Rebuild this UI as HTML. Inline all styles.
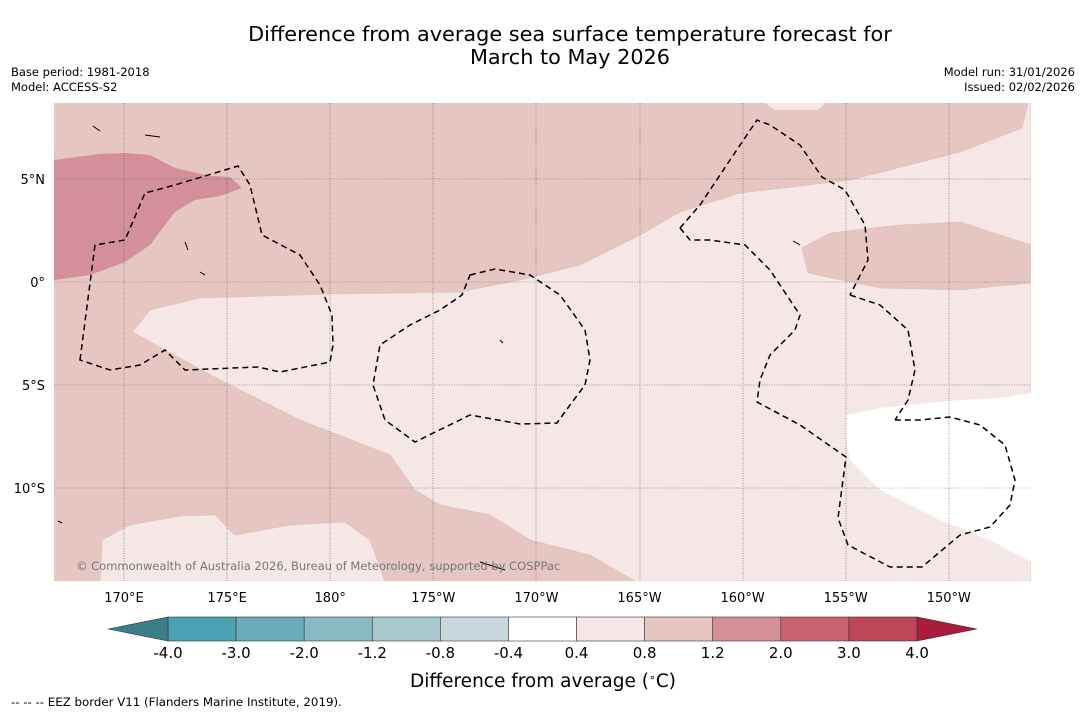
<!DOCTYPE html>
<html><head><meta charset="utf-8"><style>
body{margin:0;background:#fff;width:1085px;height:713px;overflow:hidden;font-family:"DejaVu Sans","Liberation Sans",sans-serif}
svg{display:block}
</style></head><body>
<svg id="chart" width="1085" height="713" viewBox="0 0 1085 713">
<text x="570" y="41" font-size="20.8" text-anchor="middle" fill="#000">Difference from average sea surface temperature forecast for</text>
<text x="570" y="64" font-size="20.8" text-anchor="middle" fill="#000">March to May 2026</text>
<text x="11" y="76" font-size="11.5">Base period: 1981-2018</text>
<text x="11" y="91" font-size="11.5">Model: ACCESS-S2</text>
<text x="1075" y="76" font-size="11.5" text-anchor="end">Model run: 31/01/2026</text>
<text x="1075" y="91" font-size="11.5" text-anchor="end">Issued: 02/02/2026</text>
<defs><clipPath id="mapclip"><rect x="54" y="103" width="977" height="478"/></clipPath></defs>
<g clip-path="url(#mapclip)">
<rect x="54" y="103" width="977" height="478" fill="#e6c6c2"/>
<path fill="#f4e7e5" stroke="#dcbcb8" stroke-width="0.6" d="M1028,103 L1022,128 L960,152 L850,180 L740,193 L680,212 L640,235 L580,265 L520,280 L460,292 L330,294 L200,298 L150,310 L132,332 L165,350 L220,380 L300,420 L390,455 L415,490 L440,505 L490,515 L530,540 L590,555 L635,581 L1031,581 L1031,103 Z"/>
<path fill="#e6c6c2" stroke="#dcbcb8" stroke-width="0.6" d="M802,248 L830,233 L900,225 L960,222 L1031,245 L1031,283 L960,290 L880,288 L808,273 Z"/>
<path fill="#f4e7e5" d="M765,103 L825,103 L818,110 L775,110 Z"/>
<path fill="#ffffff" d="M846,415 L880,408 L960,400 L1000,398 L1031,393 L1031,562 L990,540 L940,520 L880,490 L850,460 L846,440 Z"/>
<path fill="#f4e7e5" stroke="#dcbcb8" stroke-width="0.6" d="M100,581 L102,540 L130,525 L180,516 L215,515 L235,535 L290,525 L345,522 L370,540 L385,581 Z"/>
<path fill="#d4909a" d="M54,160 L100,154 L125,153 L150,155 L175,168 L210,176 L230,177 L242,188 L220,196 L195,200 L175,212 L165,225 L150,245 L125,262 L90,275 L54,280 Z"/>
<g stroke="#555" stroke-width="0.6" stroke-dasharray="1,1.5">
<line x1="124" y1="103" x2="124" y2="581"/><line x1="227" y1="103" x2="227" y2="581"/><line x1="330" y1="103" x2="330" y2="581"/><line x1="433" y1="103" x2="433" y2="581"/><line x1="536" y1="103" x2="536" y2="581"/><line x1="640" y1="103" x2="640" y2="581"/><line x1="743" y1="103" x2="743" y2="581"/><line x1="846" y1="103" x2="846" y2="581"/><line x1="949" y1="103" x2="949" y2="581"/>
<line x1="54" y1="179" x2="1031" y2="179"/><line x1="54" y1="282" x2="1031" y2="282"/><line x1="54" y1="385" x2="1031" y2="385"/><line x1="54" y1="488" x2="1031" y2="488"/>
</g>
<g fill="none" stroke="#000" stroke-width="1.5" stroke-dasharray="6,4">
<path d="M80,360 L95,245 L125,240 L145,193 L175,185 L238,166 L250,185 L262,235 L300,255 L320,285 L332,315 L333,345 L330,362 L280,372 L258,367 L185,370 L165,350 L140,365 L110,370 Z"/>
<path d="M470,275 L495,269 L530,275 L560,295 L585,330 L590,360 L585,385 L570,405 L557,423 L520,424 L470,415 L415,442 L385,420 L373,385 L380,345 L410,325 L440,310 L462,295 Z"/>
<path d="M680,228 L700,205 L730,160 L757,120 L770,125 L800,145 L822,177 L845,190 L865,225 L868,260 L850,295"/>
<path d="M850,295 L880,305 L908,330 L915,370 L908,400 L895,420"/>
<path d="M680,228 L690,240 L710,240 L745,245 L770,270 L800,315 L795,330 L770,355 L760,380 L757,402 L800,425 L846,457 L838,518 L848,545 L890,567 L922,567 L960,535 L990,527 L1010,505 L1015,480 L1005,445 L980,425 L950,417 L920,420 L895,420"/>
</g>
<g fill="none" stroke="#000" stroke-width="1">
<path d="M145,135 L160,137"/><path d="M93,126 L100,131"/><path d="M185,242 L188,250"/><path d="M200,272 L205,275"/><path d="M480,562 L505,570"/><path d="M500,340 L503,343"/><path d="M793,241 L800,245"/><path d="M58,521 L62,523"/>
</g>
<text x="76" y="570" font-size="11.5" fill="#777">© Commonwealth of Australia 2026, Bureau of Meteorology, supported by COSPPac</text>
</g>
<g id="xticks"></g>
<g id="yticks"></g>
<g id="colorbar"></g>
<text x="543" y="687" font-size="18.5" text-anchor="middle">Difference from average (<tspan font-size="11" dy="-6">∘</tspan><tspan dy="6">C)</tspan></text>
<text x="11" y="706" font-size="11.8">--  --  -- EEZ border V11 (Flanders Marine Institute, 2019).</text>
</svg>
<script>
const lonLabels=["170°E","175°E","180°","175°W","170°W","165°W","160°W","155°W","150°W"];
const lonValues=[170,175,180,185,190,195,200,205,210];
const latLabels=["5°N","0°","5°S","10°S"];
const latValues=[5,0,-5,-10];
const levels=[-4.0,-3.0,-2.0,-1.2,-0.8,-0.4,0.4,0.8,1.2,2.0,3.0,4.0];
const levelLabels=["-4.0","-3.0","-2.0","-1.2","-0.8","-0.4","0.4","0.8","1.2","2.0","3.0","4.0"];
const colors=["#4aa1b1","#6aacba","#8ab9c4","#a9c9ce","#c8d7db","#ffffff","#f4e7e5","#e6c6c2","#d48f98","#c8646f","#be4757"];
const underColor="#3a7f88", overColor="#a81d3c";
const NS="http://www.w3.org/2000/svg";
function lonX(v){return 124+(v-170)*20.62;}
function latY(v){return 282-v*20.6;}
function mk(tag,attrs,parent){const e=document.createElementNS(NS,tag);for(const k in attrs)e.setAttribute(k,attrs[k]);parent.appendChild(e);return e;}
const xg=document.getElementById('xticks');
lonValues.forEach((v,i)=>{const t=mk('text',{x:lonX(v),y:602,'font-size':13,'text-anchor':'middle'},xg);


t.textContent=lonLabels[i];});
const yg=document.getElementById('yticks');
latValues.forEach((v,i)=>{const t=mk('text',{x:45,y:latY(v)+5,'font-size':13,'text-anchor':'end'},yg);


t.textContent=latLabels[i];});
const cg=document.getElementById('colorbar');
const cx0=168,cw=(917-168)/(levels.length-1),cy=617,ch=24;
function cbX(i){return cx0+i*cw;}
colors.forEach((c,i)=>{const r=mk('rect',{x:cbX(i),y:cy,width:cw,height:ch,fill:c,stroke:'#333','stroke-width':0.6},cg);

});
const lt=mk('polygon',{points:`${cbX(0)},${cy} ${cbX(0)},${cy+ch} 108,${cy+ch/2}`,fill:underColor,stroke:'#333','stroke-width':0.6},cg);


const n=levels.length-1;
const rt=mk('polygon',{points:`${cbX(n)},${cy} ${cbX(n)},${cy+ch} 977,${cy+ch/2}`,fill:overColor,stroke:'#333','stroke-width':0.6},cg);


levels.forEach((v,i)=>{const t=mk('text',{x:cbX(i),y:658,'font-size':15,'text-anchor':'middle'},cg);


t.textContent=levelLabels[i];});
</script>
</body></html>
